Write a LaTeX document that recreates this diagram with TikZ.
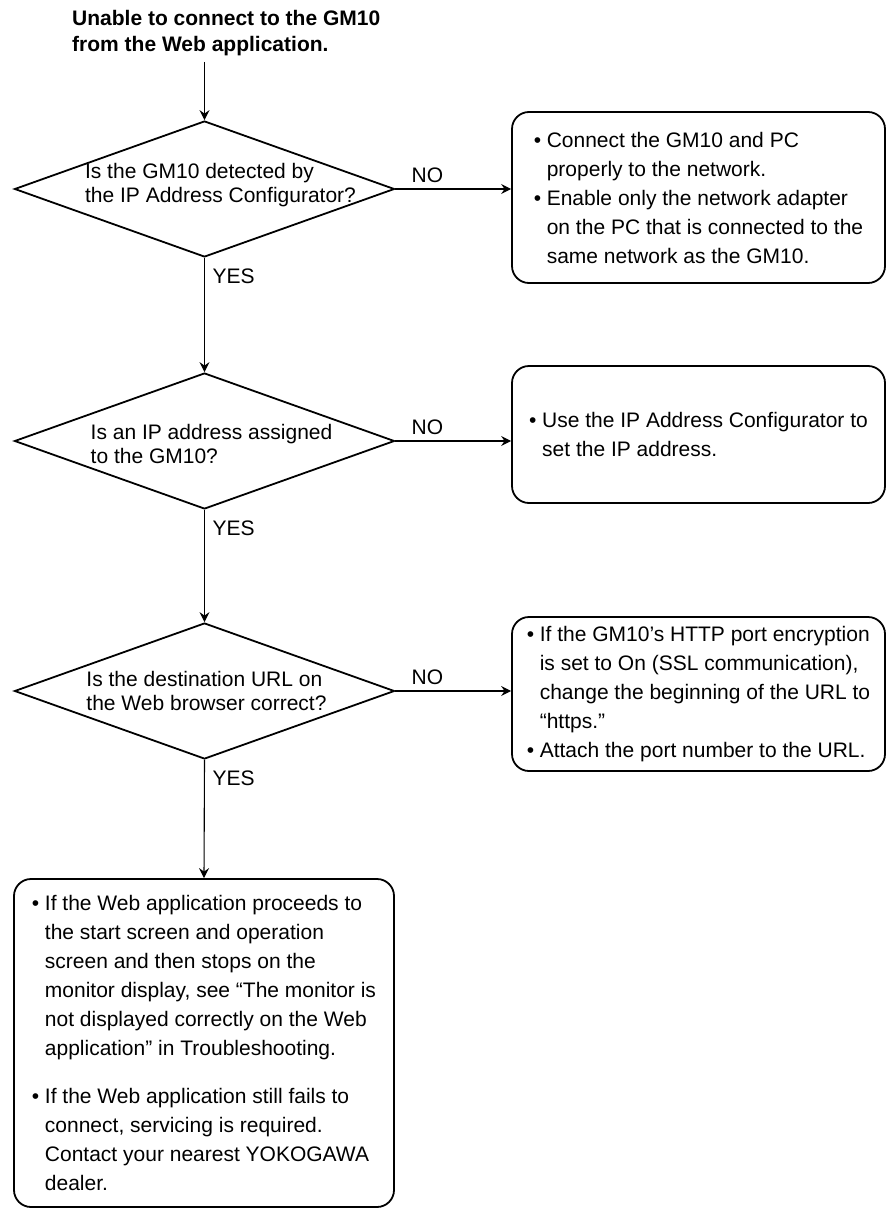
\documentclass[tikz,border=0pt]{standalone}
\usepackage{fontspec}
\setmainfont{Liberation Sans}
\usetikzlibrary{shapes.geometric,arrows.meta}
\newcommand{\bulmark}{\makebox[13pt][l]{•}}
\newcommand{\bulgap}{\hspace*{13pt}}
\tikzset{
  decision/.style={draw,line width=1.8pt,shape=diamond,minimum width=380pt,minimum height=136pt,inner sep=0pt},
  qtext/.style={align=left,inner sep=0pt,font=\fontsize{21pt}{24pt}\selectfont},
  answer/.style={draw,line width=1.8pt,rounded corners=17pt,align=left,inner sep=0pt,font=\fontsize{21pt}{29pt}\selectfont},
  lbl/.style={inner sep=0pt,font=\fontsize{21pt}{24pt}\selectfont},
  headline/.style={align=left,inner sep=0pt,font=\bfseries\fontsize{21pt}{26pt}\selectfont},
  arr/.style={line width=1.1pt,-{Stealth[length=10pt,width=10pt,inset=3.5pt]}}
}

\begin{document}
\begin{tikzpicture}[x=1pt,y=-1pt]
\useasboundingbox (0,0) rectangle (886,1209);
\node[headline,anchor=north west] (head) at (72,10) {Unable to connect to the GM10\\from the Web application.};
\node[decision] (q1) at (204.5,189) {};
\node[qtext] (q1t) at ([xshift=16pt,yshift=4pt]q1.center) {Is the GM10 detected by\\the IP Address Configurator?};
\node[decision] (q2) at (204.5,441) {};
\node[qtext] (q2t) at ([xshift=7pt,yshift=-3pt]q2.center) {Is an IP address assigned\\to the GM10?};
\node[decision] (q3) at (204.5,691) {};
\node[qtext] (q3t) at ([xshift=2pt]q3.center) {Is the destination URL on\\the Web browser correct?};
\node[answer,minimum width=373pt,minimum height=171pt] (b1) at (698.5,197.5) {\bulmark Connect the GM10 and PC\\\bulgap properly to the network.\\\bulmark Enable only the network adapter\\\bulgap on the PC that is connected to the\\\bulgap same network as the GM10.};
\node[answer,minimum width=373pt,minimum height=137pt] (b2) at (698.5,434.5) {\bulmark Use the IP Address Configurator to\\\bulgap set the IP address.};
\node[answer,minimum width=373pt,minimum height=154pt] (b3) at (698.5,694) {\bulmark If the GM10’s HTTP port encryption\\\bulgap is set to On (SSL communication),\\\bulgap change the beginning of the URL to\\\bulgap “https.”\\\bulmark Attach the port number to the URL.};
\node[answer,minimum width=380pt,minimum height=328pt] (b4) at (204,1043) {\bulmark If the Web application proceeds to\\\bulgap the start screen and operation\\\bulgap screen and then stops on the\\\bulgap monitor display, see “The monitor is\\\bulgap not displayed correctly on the Web\\\bulgap application” in Troubleshooting.\\[19pt]\bulmark If the Web application still fails to\\\bulgap connect, servicing is required.\\\bulgap Contact your nearest YOKOGAWA\\\bulgap dealer.};
\node[lbl,anchor=south west] (no1) at ([xshift=16pt,yshift=6pt]q1.east) {NO};
\node[lbl,anchor=south west] (no2) at ([xshift=16pt,yshift=6pt]q2.east) {NO};
\node[lbl,anchor=south west] (no3) at ([xshift=16pt,yshift=6pt]q3.east) {NO};
\node[lbl,anchor=north west] (yes1) at ([xshift=8pt,yshift=-11pt]q1.south) {YES};
\node[lbl,anchor=north west] (yes2) at ([xshift=8pt,yshift=-11pt]q2.south) {YES};
\node[lbl,anchor=north west] (yes3) at ([xshift=8pt,yshift=-11pt]q3.south) {YES};
\draw[arr,shorten <=6pt] (q1.north |- head.south) -- (q1.north);
\draw[arr] (q1.east) -- (q1.east -| b1.west);
\draw[arr] (q2.east) -- (q2.east -| b2.west);
\draw[arr] (q3.east) -- (q3.east -| b3.west);
\draw[arr] (q1.south) -- (q2.north);
\draw[arr] (q2.south) -- (q3.north);
\draw[arr] (q3.south) -- (b4.north);
\end{tikzpicture}
\end{document}
